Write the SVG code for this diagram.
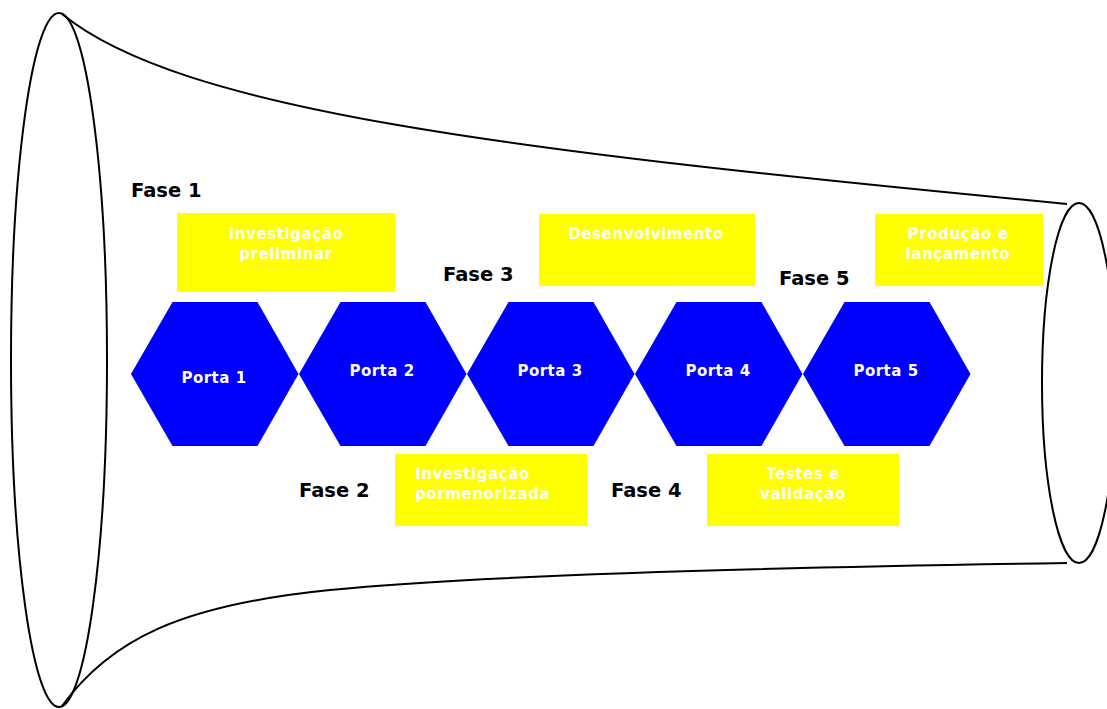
<svg xmlns="http://www.w3.org/2000/svg" width="1107" height="709" viewBox="0 0 1107 709">
  <defs>
    <style>
      .outline { fill: none; stroke: #000; stroke-width: 2; }
      .gate { fill: #0000FF; }
      .gate-label { font-family: "DejaVu Sans", Verdana, sans-serif; font-weight: bold; font-size: 15px; letter-spacing: 0.5px; fill: #FFFFFF; text-anchor: middle; }
      .task { fill: #FFFF00; }
      .task-label { font-family: "DejaVu Sans", Verdana, sans-serif; font-weight: bold; font-size: 15px; letter-spacing: 0.6px; fill: #FFFFFF; }
      .phase { font-family: "DejaVu Sans", Verdana, sans-serif; font-weight: bold; font-size: 19.5px; fill: #000; }
    </style>
    <polygon id="hex" points="-83.5,0 -42,-72 43,-72 84,0 43,72 -42,72"/>
  </defs>
  <rect width="1107" height="709" fill="#FFFFFF"/>

  <!-- funnel outline -->
  <g id="funnel">
    <ellipse class="outline" cx="59" cy="360" rx="48" ry="347"/>
    <ellipse class="outline" cx="1079" cy="383" rx="37" ry="180"/>
    <path class="outline" d="M 62,14 C 180,110 500,150 1067,204"/>
    <path class="outline" d="M 62,706 C 110,640 180,605 330,590 C 480,575 800,567 1067,563"/>
  </g>

  <!-- phase tasks -->
  <g id="task1">
    <rect class="task" x="177" y="213" width="218" height="79"/>
    <text class="task-label" x="286" y="239" text-anchor="middle">Investigação</text>
    <text class="task-label" x="286" y="259" text-anchor="middle">preliminar</text>
  </g>
  <g id="task2">
    <rect class="task" x="395" y="454" width="192" height="72"/>
    <text class="task-label" x="415" y="479">Investigação</text>
    <text class="task-label" x="415" y="499">pormenorizada</text>
  </g>
  <g id="task3">
    <rect class="task" x="539" y="214" width="216" height="72"/>
    <text class="task-label" x="646" y="239" text-anchor="middle">Desenvolvimento</text>
  </g>
  <g id="task4">
    <rect class="task" x="707" y="454" width="192" height="72"/>
    <text class="task-label" x="803" y="479" text-anchor="middle">Testes e</text>
    <text class="task-label" x="803" y="499" text-anchor="middle">validação</text>
  </g>
  <g id="task5">
    <rect class="task" x="875" y="214" width="168" height="72"/>
    <text class="task-label" x="958" y="239" text-anchor="middle">Produção e</text>
    <text class="task-label" x="958" y="259" text-anchor="middle">lançamento</text>
  </g>

  <!-- gates -->
  <g id="gate1">
    <use href="#hex" class="gate" x="214.5" y="374"/>
    <text class="gate-label" x="214" y="383">Porta 1</text>
  </g>
  <g id="gate2">
    <use href="#hex" class="gate" x="382.5" y="374"/>
    <text class="gate-label" x="382" y="376">Porta 2</text>
  </g>
  <g id="gate3">
    <use href="#hex" class="gate" x="550.5" y="374"/>
    <text class="gate-label" x="550" y="376">Porta 3</text>
  </g>
  <g id="gate4">
    <use href="#hex" class="gate" x="718.5" y="374"/>
    <text class="gate-label" x="718" y="376">Porta 4</text>
  </g>
  <g id="gate5">
    <use href="#hex" class="gate" x="886.5" y="374"/>
    <text class="gate-label" x="886" y="376">Porta 5</text>
  </g>

  <!-- phase labels -->
  <g id="phases">
    <text class="phase" x="131" y="197">Fase 1</text>
    <text class="phase" x="299" y="497">Fase 2</text>
    <text class="phase" x="443" y="281">Fase 3</text>
    <text class="phase" x="611" y="497">Fase 4</text>
    <text class="phase" x="779" y="285">Fase 5</text>
  </g>

  <g id="connectors"/>
</svg>
